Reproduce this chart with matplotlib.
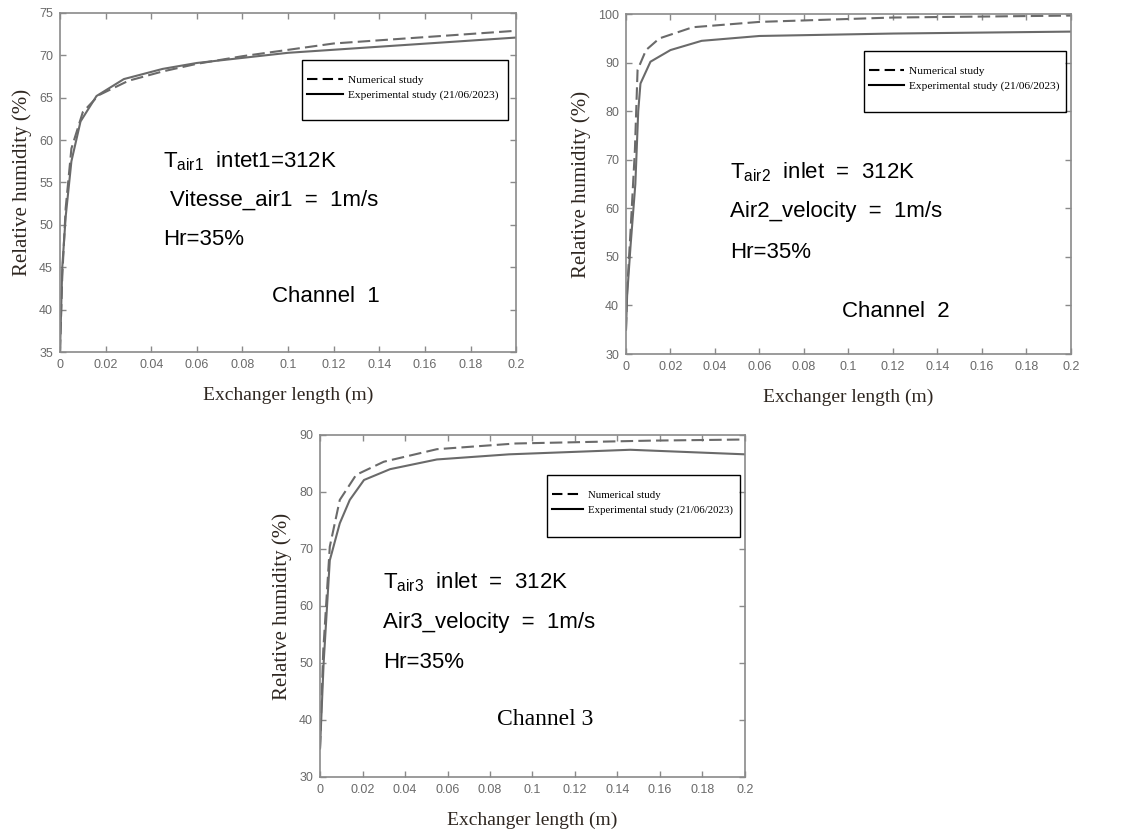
import matplotlib
matplotlib.use("Agg")
import matplotlib.pyplot as plt
from matplotlib.lines import Line2D
from matplotlib.patches import Rectangle

# ---------------- data ----------------
x_ticks = [0, 0.02, 0.04, 0.06, 0.08, 0.1, 0.12, 0.14, 0.16, 0.18, 0.2]
x_tick_labels = ["0", "0.02", "0.04", "0.06", "0.08", "0.1", "0.12", "0.14", "0.16", "0.18", "0.2"]

# Channel 1
x1_exp = [0, 0.001, 0.0025, 0.005, 0.009, 0.016, 0.028, 0.045, 0.06, 0.1, 0.2]
y1_exp = [35, 45, 51, 57.5, 62.2, 65.2, 67.2, 68.4, 69.1, 70.3, 72.1]
x1_num = [0, 0.001, 0.0025, 0.005, 0.01, 0.017, 0.03, 0.045, 0.06, 0.08, 0.12, 0.2]
y1_num = [35, 44, 52, 59, 63.3, 65.3, 67.0, 68.1, 69.0, 69.9, 71.4, 72.9]
y1_ticks = [35, 40, 45, 50, 55, 60, 65, 70, 75]

# Channel 2
x2_exp = [0, 0.0005, 0.002, 0.0042, 0.0055, 0.0065, 0.011, 0.02, 0.034, 0.06, 0.12, 0.2]
y2_exp = [35, 42, 52, 65, 80, 85.7, 90.2, 92.6, 94.5, 95.5, 96.0, 96.4]
x2_num = [0, 0.0005, 0.002, 0.004, 0.0052, 0.009, 0.015, 0.03, 0.06, 0.12, 0.2]
y2_num = [35, 43, 55, 72, 88.5, 92.6, 95.0, 97.3, 98.4, 99.3, 99.7]
y2_ticks = [30, 40, 50, 60, 70, 80, 90, 100]

# Channel 3
x3_exp = [0, 0.0017, 0.0046, 0.0093, 0.014, 0.0207, 0.033, 0.055, 0.089, 0.146, 0.2]
y3_exp = [35, 50, 68, 74.5, 78.6, 82.1, 84.0, 85.7, 86.6, 87.4, 86.6]
x3_num = [0, 0.0015, 0.0046, 0.0093, 0.017, 0.03, 0.055, 0.092, 0.155, 0.2]
y3_num = [35, 52, 70.4, 78.6, 83.0, 85.3, 87.5, 88.5, 89.0, 89.2]
y3_ticks = [30, 40, 50, 60, 70, 80, 90]

legend_labels = ["Numerical study", "Experimental study (21/06/2023)"]

# ---------------- figure ----------------
fig = plt.figure(figsize=(11.32, 8.31), dpi=100)
fig.patch.set_facecolor("white")

LINE_C = "#6a6a6a"
SPINE_C = "#8a8a8a"
TICK_C = "#6a6a6a"
LABEL_C = "#2e2620"
DASH = (0, (6, 2.5))


def setup(ax, yticks, ylim):
    ax.set_xlim(0, 0.2)
    ax.set_ylim(*ylim)
    ax.set_xticks(x_ticks)
    ax.set_xticklabels(x_tick_labels)
    ax.set_yticks(yticks)
    ax.set_yticklabels([str(v) for v in yticks])
    for s in ax.spines.values():
        s.set_color(SPINE_C)
        s.set_linewidth(1.2)
    ax.tick_params(direction="in", top=True, right=True, length=4, width=1,
                   color=SPINE_C, labelcolor=TICK_C, labelsize=9, pad=5)
    for lab in ax.get_xticklabels() + ax.get_yticklabels():
        lab.set_family("Liberation Sans")
    ax.set_xlabel("Exchanger length (m)", family="Liberation Serif", fontsize=14,
                  color=LABEL_C, labelpad=11)
    ax.set_ylabel("Relative humidity (%)", family="Liberation Serif", fontsize=15,
                  color=LABEL_C, labelpad=5)


def legend(ax, hx, ty, box, size=8.2, hl=3.1):
    handles = [Line2D([], [], color="black", lw=1.5, linestyle=(0, (5, 2.5))),
               Line2D([], [], color="black", lw=1.5)]
    ax.legend(handles, legend_labels, loc="upper left", bbox_to_anchor=(hx, ty),
              frameon=False, prop={"family": "Liberation Serif", "size": size},
              handlelength=hl, handletextpad=0.45, labelspacing=0.45,
              borderpad=0, borderaxespad=0)
    x0, y0, x1, y1 = box
    ax.add_patch(Rectangle((x0, y0), x1 - x0, y1 - y0, transform=ax.transAxes,
                           fill=False, edgecolor="black", lw=1.0, zorder=5))


SANS = "Liberation Sans"
TXT = 16

# ---- Panel 1 ----
ax1 = fig.add_axes([0.053, 0.5764, 0.403, 0.408])
ax1.plot(x1_num, y1_num, color=LINE_C, lw=1.5, linestyle=DASH)
ax1.plot(x1_exp, y1_exp, color=LINE_C, lw=1.5)
setup(ax1, y1_ticks, (35, 75))
legend(ax1, 0.542, 0.818, (0.531, 0.684, 0.982, 0.861))
ax1.text(0.226, 0.563, r"T$_{\mathregular{air1}}$  intet1=312K", transform=ax1.transAxes,
         family=SANS, fontsize=TXT, va="center", ha="left")
ax1.text(0.241, 0.448, "Vitesse_air1  =  1m/s", transform=ax1.transAxes,
         family=SANS, fontsize=TXT, va="center", ha="left")
ax1.text(0.226, 0.333, "Hr=35%", transform=ax1.transAxes,
         family=SANS, fontsize=TXT, va="center", ha="left")
ax1.text(0.465, 0.165, "Channel  1", transform=ax1.transAxes,
         family=SANS, fontsize=TXT, va="center", ha="left")

# ---- Panel 2 ----
ax2 = fig.add_axes([0.553, 0.574, 0.393, 0.409])
ax2.plot(x2_num, y2_num, color=LINE_C, lw=1.5, linestyle=DASH)
ax2.plot(x2_exp, y2_exp, color=LINE_C, lw=1.5)
setup(ax2, y2_ticks, (30, 100))
legend(ax2, 0.546, 0.848, (0.535, 0.712, 0.989, 0.891))
ax2.text(0.234, 0.535, r"T$_{\mathregular{air2}}$  inlet  =  312K", transform=ax2.transAxes,
         family=SANS, fontsize=TXT, va="center", ha="left")
ax2.text(0.234, 0.418, "Air2_velocity  =  1m/s", transform=ax2.transAxes,
         family=SANS, fontsize=TXT, va="center", ha="left")
ax2.text(0.234, 0.300, "Hr=35%", transform=ax2.transAxes,
         family=SANS, fontsize=TXT, va="center", ha="left")
ax2.text(0.485, 0.124, "Channel  2", transform=ax2.transAxes,
         family=SANS, fontsize=TXT, va="center", ha="left")

# ---- Panel 3 ----
ax3 = fig.add_axes([0.2827, 0.065, 0.3754, 0.4116])
ax3.plot(x3_num, y3_num, color=LINE_C, lw=1.5, linestyle=DASH)
ax3.plot(x3_exp, y3_exp, color=LINE_C, lw=1.5)
setup(ax3, y3_ticks, (30, 90))
legend(ax3, 0.546, 0.837, (0.534, 0.702, 0.988, 0.883), size=7.8, hl=2.9)
ax3.text(0.148, 0.570, r"T$_{\mathregular{air3}}$  inlet  =  312K", transform=ax3.transAxes,
         family=SANS, fontsize=TXT, va="center", ha="left")
ax3.text(0.148, 0.453, "Air3_velocity  =  1m/s", transform=ax3.transAxes,
         family=SANS, fontsize=TXT, va="center", ha="left")
ax3.text(0.148, 0.336, "Hr=35%", transform=ax3.transAxes,
         family=SANS, fontsize=TXT, va="center", ha="left")
ax3.text(0.416, 0.167, "Channel 3", transform=ax3.transAxes,
         family="Liberation Serif", fontsize=TXT + 1, va="center", ha="left")

fig.savefig("out.png", dpi=100, facecolor="white")
